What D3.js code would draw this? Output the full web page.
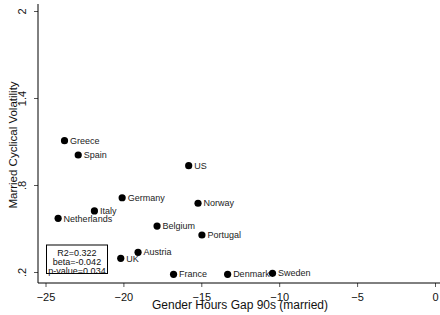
<!DOCTYPE html>
<html><head><meta charset="utf-8">
<script src="https://cdn.jsdelivr.net/npm/d3@7"></script>
<style>html,body{margin:0;padding:0;background:#fff;}svg{display:block;font-family:"Liberation Sans",Arial,sans-serif;}</style>
</head><body>
<svg id="c" width="440" height="315"></svg>
<script>
const countries = ["Greece","Spain","US","Germany","Norway","Italy","Netherlands","Belgium","Portugal","Austria","UK","France","Denmark","Sweden"];
const gap = [-23.78,-22.90,-15.81,-20.08,-15.21,-21.86,-24.19,-17.84,-14.96,-19.06,-20.17,-16.78,-13.31,-10.43];
const volatility = [1.106,1.007,0.933,0.712,0.674,0.621,0.570,0.517,0.455,0.336,0.294,0.184,0.184,0.191];
const xTicks = [-25,-20,-15,-10,-5,0];
const yTicks = [0.2,0.8,1.4,2];
const yTickLabels = [".2",".8","1.4","2"];
const statsLines = ["R2=0.322","beta=-0.042","p-value=0.034"];

const svg = d3.select("#c");
const x = d3.scaleLinear().domain([-25,0]).range([45.5,435]);
const y = d3.scaleLinear().domain([0.2,2]).range([272,11]);
const axisX0 = 38, axisY0 = 283;

// axes
const gx = svg.append("g").attr("transform",`translate(0,${axisY0})`)
  .call(d3.axisBottom(x).tickValues(xTicks).tickSize(4).tickPadding(6).tickFormat(d3.format("d")));
gx.select(".domain").remove();
gx.append("line").attr("x1",axisX0).attr("x2",440).attr("y1",0).attr("y2",0).attr("stroke","#000");
gx.selectAll(".tick line").attr("stroke","#555");
gx.selectAll("text").attr("font-size",11).attr("fill","#111").attr("font-family","Liberation Sans, Arial, sans-serif");

const gy = svg.append("g").attr("transform",`translate(${axisX0},0)`)
  .call(d3.axisLeft(y).tickValues(yTicks).tickSize(4).tickFormat((d,i)=>yTickLabels[i]));
gy.select(".domain").remove();
gy.append("line").attr("x1",0).attr("x2",0).attr("y1",4).attr("y2",axisY0).attr("stroke","#000");
gy.selectAll(".tick line").attr("stroke","#555");
gy.selectAll(".tick text")
  .attr("font-size",11).attr("fill","#111").attr("font-family","Liberation Sans, Arial, sans-serif")
  .attr("x",null).attr("dy",null)
  .attr("text-anchor","middle")
  .attr("transform","translate(-12,0) rotate(-90)")
  .attr("y",0);

// titles
svg.append("text").attr("x",240).attr("y",309).attr("text-anchor","middle")
  .attr("font-size",12).attr("fill","#111").text("Gender Hours Gap 90s (married)");
svg.append("text").attr("transform","translate(17,145) rotate(-90)").attr("text-anchor","middle")
  .attr("font-size",11.5).attr("fill","#111").text("Married Cyclical Volatility");

// points
const data = countries.map((c,i)=>({c, x:gap[i], y:volatility[i]}));
const g = svg.append("g");
g.selectAll("circle").data(data).join("circle")
  .attr("cx",d=>x(d.x)).attr("cy",d=>y(d.y)).attr("r",3.6).attr("fill","#000");
g.selectAll("text").data(data).join("text")
  .attr("x",d=>x(d.x)+5.5).attr("y",d=>y(d.y)).attr("dy","0.35em")
  .attr("font-size",9).attr("fill","#222").text(d=>d.c);

// stats box
svg.append("rect").attr("x",46.5).attr("y",245).attr("width",61).attr("height",28.5)
  .attr("fill","#fff").attr("stroke","#000").attr("stroke-width",1);
svg.append("g").selectAll("text").data(statsLines).join("text")
  .attr("x",77).attr("y",(d,i)=>252.5+i*9).attr("dy","0.35em").attr("text-anchor","middle")
  .attr("font-size",9).attr("fill","#111").text(d=>d);
</script>
</body></html>
